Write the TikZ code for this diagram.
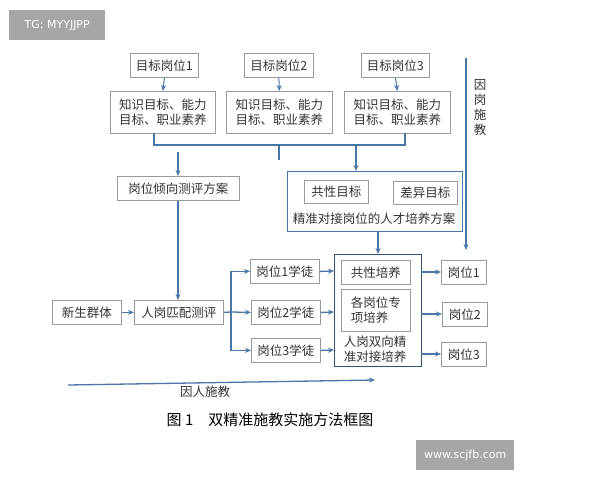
\documentclass[tikz,border=0pt]{standalone}
\usepackage{fontspec}
\setmainfont{Noto Sans CJK SC}
\usetikzlibrary{arrows.meta}
\definecolor{ln}{HTML}{4A76A8}
\definecolor{bx}{HTML}{9A9A9A}
\begin{document}
\begin{tikzpicture}[x=1pt,y=-1pt,
  bx/.style={draw=bx,line width=0.8pt,inner sep=0pt,anchor=north west,align=left},
  tx/.style={font=\fontsize{12.5}{15}\selectfont,align=left,text=black!80},
  con/.style={draw=ln,line width=1.3pt,-{Stealth[length=6pt,width=5pt]}},
  ln/.style={draw=ln,line width=1.3pt}]
\useasboundingbox[fill=white] (0,0) rectangle (600,480);
\node[fill=gray!70,text=white,minimum width=96pt,minimum height=30pt,anchor=north west,font=\fontspec{DejaVu Sans}\fontsize{11}{13}\selectfont] (wm1) at (9,10) {TG: MYYJJPP};
\newcommand\bb[6]{\node[bx,minimum width=#4-#2,minimum height=#5-#3] (#1) at (#2,#3) {}; \node[tx] at (#1.center) {#6};}
\bb{t1}{130}{53}{198}{77}{目标岗位1}
\bb{t2}{244}{53}{313}{77}{目标岗位2}
\bb{t3}{361}{53}{429}{77}{目标岗位3}
\bb{k1}{110}{91}{215}{133}{知识目标、能力\\目标、职业素养}
\bb{k2}{226}{91}{332}{133}{知识目标、能力\\目标、职业素养}
\bb{k3}{344}{91}{450}{133}{知识目标、能力\\目标、职业素养}
\foreach \i in {1,2,3}{\draw[con,line width=1pt] (t\i.south) -- (k\i.north);}
\draw[ln] (154,133) -- (154,145) -- (405,145) -- (405,133);
\draw[ln] (279,145) -- (279,160);
\bb{qx}{117}{176}{239}{200}{岗位倾向测评方案}
\node[draw=ln,line width=1.2pt,minimum width=175pt,minimum height=60pt,anchor=north west,inner sep=0pt] (fa) at (287,171) {};
\bb{gx}{304}{180}{368}{203}{共性目标}
\bb{cy}{393}{181}{457}{204}{差异目标}
\node[tx] (fat) at (374,219) {精准对接岗位的人才培养方案};
\coordinate (b1) at (178,152); \coordinate (b2) at (356,145);
\draw[con] (b1) -- (b1|-qx.north);
\draw[con] (b2) -- (b2|-fa.north);
\coordinate (r1) at (466,58);
\draw[con] (r1) -- (466,250);
\node[tx,align=center] (yg) at (480,108) {因\\岗\\施\\教};
\bb{xs}{52}{300}{121}{324}{新生群体}
\bb{pp}{134}{300}{223}{324}{人岗匹配测评}
\draw[con] (qx.south-|178,0) -- (178,300);
\draw[con] (xs) -- (pp);
\bb{x1}{250}{259}{319}{283}{岗位1学徒}
\bb{x2}{251}{300}{320}{324}{岗位2学徒}
\bb{x3}{251}{338}{320}{362}{岗位3学徒}
\coordinate (br) at (231,312);
\draw[ln] (pp.east) -- (br);
\draw[con] (br) |- (x1.west);
\draw[con] (br) -- (x2.west);
\draw[con] (br) |- (x3.west);
\node[draw=ln!70!black,line width=1.2pt,minimum width=87pt,minimum height=112pt,anchor=north west,inner sep=0pt] (pb) at (334,254) {};
\bb{gp}{341}{260}{410}{284}{共性培养}
\bb{zx}{341}{289}{410}{331}{各岗位专\\项培养}
\node[tx] (sx) at (375,349) {人岗双向精\\准对接培养};
\draw[con] (378,231) -- (378,254);
\foreach \i/\y in {1/271,2/312,3/350}{\draw[con] (x\i.east) -- (334,\y);}
\bb{g1}{441}{260}{486}{284}{岗位1}
\bb{g2}{442}{302}{487}{326}{岗位2}
\bb{g3}{441}{342}{486}{366}{岗位3}
\foreach \i/\y in {1/272,2/314,3/354}{\draw[con] (421,\y) -- (g\i.west|-0,\y);}
\coordinate (a1) at (68,385); \coordinate (a2) at (375,380);
\draw[con] (a1) -- (a2);
\node[tx] (yr) at (205,392) {因人施教};
\node[font=\fontsize{15}{17}\selectfont] (cap) at (270,420) {图 1\quad 双精准施教实施方法框图};
\node[fill=gray!70,text=white,minimum width=98pt,minimum height=30pt,anchor=north west,font=\fontspec{DejaVu Sans}\fontsize{11}{13}\selectfont] (wm2) at (416,440) {www.scjfb.com};
\end{tikzpicture}
\end{document}
